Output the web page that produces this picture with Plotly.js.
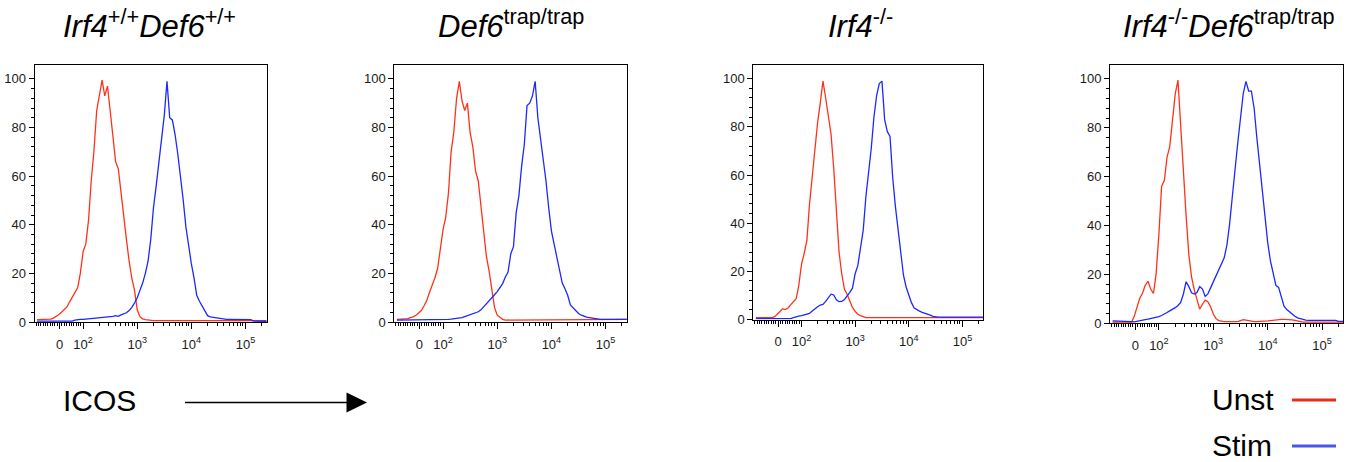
<!DOCTYPE html>
<html><head><meta charset="utf-8">
<script src="https://cdn.plot.ly/plotly-3.0.1.min.js"></script>
<style>html,body{margin:0;padding:0;background:#fff}#chart{width:1352px;height:462px}</style>
</head><body><div id="chart"></div>
<script>
// ICOS intensity bin centres (shared by all histograms)
const icosBins = [-96,-84,-73,-61,-50,-38,-27,-15,-4,8,19,31,42,54,65,77,88,100,
  112,126,141,158,178,200,224,251,282,316,355,398,447,501,562,631,708,794,891,1000,
  1122,1259,1413,1585,1778,1995,2239,2512,2818,3162,3548,3981,4467,5012,5623,6310,7079,7943,8913,10000,
  11220,12589,14125,15849,17783,19953,22387,25119,28184,31623,35481,39811,44668,50119,56234,63096,70795,79433,89125,100000,
  112202,125893,141254,158489,177828,199526,223872,251189];

const panelTitles = [
  '<i>Irf4</i><sup>+/+</sup><i>Def6</i><sup>+/+</sup>',
  '<i>Def6</i><sup>trap/trap</sup>',
  '<i>Irf4</i><sup>-/-</sup>',
  '<i>Irf4</i><sup>-/-</sup><i>Def6</i><sup>trap/trap</sup>'
];
const seriesNames = ['Unst', 'Stim'];
const axisLabel = 'ICOS';

// % of max, per bin
const wtUnst = [1.0,1.0,1.0,1.0,1.1,1.2,1.6,2.2,3.0,4.0,
  5.0,6.2,8.2,10.3,12.5,14.2,20,29,32,42,
  58,70,87,94,99.5,93,97,87,76,66,
  63,53,42,34,25,18,13,5,2.2,1.3,
  1.0,0.8,0.7,0.6,0.6,0.6,0.6,0.6,0.6,0.6,
  0.6,0.6,0.6,0.6,0.6,0.6,0.6,0.6,0.6,0.6,
  0.6,0.6,0.6,0.6,0.6,0.6,0.6,0.6,0.6,0.6,
  0.6,0.6,0.6,0.6,0.6,0.6,0.6,0.6,0.6,0.6,
  0.6,0.6,0.6,0.6,0.6,0.6];
const wtStim = [0.4,0.4,0.4,0.4,0.4,0.4,0.4,0.4,0.4,0.4,
  0.4,0.4,0.4,0.4,0.8,1.1,1.1,1.1,1.2,1.2,
  1.2,1.3,1.4,1.5,1.6,1.7,1.9,2.0,2.3,2.6,
  2.3,2.9,3.3,3.8,4.7,6.0,7.8,10,13,16,
  20,25,34,47,56,65,75,85,99,84,
  83,77,69,60,50,39,31,24,18,11,
  8.5,6.5,5,2.6,2.1,1.9,1.7,1.5,1.3,1.2,
  1.1,1.1,1.1,1.1,1.1,1.1,1.1,1.1,1.1,1.0,
  0.4,0.3,0.3,0.3,0.3,0.3];
const def6Unst = [1.1,1.1,1.1,1.2,1.4,1.8,2.1,2.8,3.6,4.7,
  6.6,8.8,12,15,18,22,29,38,43,53,
  70,78,92,99,91,87,90,78,72,62,
  58,48,39,27,21,13,6,2.8,1.8,1.1,
  0.8,0.8,0.8,0.8,0.8,0.8,0.8,0.8,0.8,0.8,
  0.8,0.8,0.8,0.8,0.8,0.8,0.8,0.8,0.8,0.8,
  0.8,0.8,0.8,0.8,0.8,0.8,0.8,0.8,0.8,0.8,
  0.9,0.9,1.1,1.1,1.1,1.1,1.1,1.1,1.1,1.1,
  1.1,1.1,1.1,1.1,1.1,1.1];
const def6Stim = [0.8,0.8,0.8,0.8,0.8,0.8,0.8,0.8,0.8,0.8,
  1.0,1.1,1.1,1.1,1.1,1.1,1.1,1.1,1.1,1.1,
  1.2,1.3,1.4,1.5,1.8,2.2,2.6,2.9,3.2,3.5,
  4.2,5.0,6.2,7.2,8.5,10,11.2,12.5,14,15.8,
  18.5,20.5,28,31,45,52,64,73,89,90,
  93,99,84,76,68,58,47,37.5,32,27,
  21,16,13.7,11,7,5.7,4.8,3.5,2.8,2.3,
  2.0,1.8,1.6,1.3,1.1,1.1,1.1,1.1,1.1,1.1,
  1.1,1.1,1.1,1.1,1.1,1.1];
const irf4Unst = [0.8,0.8,0.8,0.8,0.8,0.8,0.8,1.2,2.2,3.3,
  4.5,4.1,4.8,6.2,7.4,8.6,14,23,27.4,33,
  48,60,73,82,90,99,92,85.5,77,63,
  44,28,19,12.5,10.5,7.8,5,3.4,2.2,1.6,
  1.2,0.8,0.8,0.8,0.8,0.8,0.8,0.8,0.8,0.8,
  0.8,0.8,0.8,0.8,0.8,0.8,0.8,0.8,0.8,0.8,
  0.8,0.8,0.8,0.8,0.8,0.8,0.8,0.8,0.8,0.8,
  0.8,0.8,0.8,0.8,0.8,0.8,0.8,0.8,0.8,0.8,
  0.8,0.8,0.8,0.8,0.8,0.8];
const irf4Stim = [0.4,0.4,0.4,0.4,0.4,0.4,0.4,0.4,0.4,0.4,
  0.4,0.4,0.4,0.4,0.8,1.2,1.4,1.6,1.9,2.2,
  2.5,3.5,4.6,5.3,6.0,6.3,7.5,9.1,10.5,10.2,
  8.2,7.4,7.5,8.3,9.6,11.3,13,19,22.5,29,
  37,51,61,71,84,93,98,99,83,78,
  76,59,47,38,27,18.5,13.5,9.8,7,4.8,
  4.0,3.5,3.0,2.7,2.3,1.8,1.3,1.0,1.0,1.0,
  1.0,1.0,1.0,1.0,1.0,1.0,1.0,1.0,1.0,1.0,
  1.0,1.0,1.0,1.0,1.0,1.0];
const dkoUnst = [0.5,0.5,0.5,0.5,0.5,0.5,0.5,0.5,3,7,
  10.3,12.4,15.6,17.2,14,12.2,20,36.6,56,58.5,
  68,72.2,82,94,99.5,80.4,65,44,28,19,
  13.7,9.2,5.8,7.8,9.5,8.8,6.8,3.8,1.9,1.1,
  0.8,0.7,0.7,0.7,0.7,0.7,0.7,1.1,1.5,1.3,
  1.0,0.7,0.7,0.7,0.7,0.8,0.9,1.0,1.1,1.3,
  1.5,1.6,1.6,1.6,1.6,1.6,1.4,1.2,0.9,0.7,
  0.5,0.5,0.5,0.5,0.5,0.5,0.5,0.5,0.5,0.5,
  0.5,0.5,0.5,0.5,0.5,0.5];
const dkoStim = [1.0,1.0,1.0,1.0,1.0,1.0,1.0,0.7,0.6,0.9,
  1.1,1.3,1.5,1.7,1.9,2.1,2.3,2.7,3.2,3.7,
  4.4,5.1,5.7,6.4,7.3,8.5,12,17,15,12.5,
  12,12.6,15,14,11,12,14.5,17,20,22,
  25,26.8,32,40.7,52,64,74,84,94,99,
  95,95,88,76,65,57,45,33,25.5,20,
  15.5,14.7,10.5,7,5.6,4.6,3.7,2.9,2.2,1.8,
  1.5,1.3,1.2,1.2,1.2,1.2,1.2,1.2,1.2,1.2,
  1.2,1.2,1.2,0.8,0.8,0.8];

const panelSeries = [[wtUnst, wtStim], [def6Unst, def6Stim], [irf4Unst, irf4Stim], [dkoUnst, dkoStim]];

const yTickVals = [0, 20, 40, 60, 80, 100];
const xTickVals = [0, 100, 1000, 10000, 100000];
const xTickText = ['0', '10<sup>2</sup>', '10<sup>3</sup>', '10<sup>4</sup>', '10<sup>5</sup>'];

// biexponential-like display scale: linear near zero, log10 above 100
function biex(v) { return v >= 100 ? Math.log10(v) : 2 + (v - 100) / (100 * Math.LN10); }

const W = 1352, H = 462;
const px = x => x / W;
const py = y => 1 - y / H;

const xDomPx = [[34.5, 266.5], [394.3, 626.7], [753.3, 983.3], [1110, 1343.3]];
const yDomPx = [[65, 322], [65, 322], [65, 319.5], [65, 323.3]];
const titleCx = [149, 511, 861, 1229];

const minorX = [];
for (let v = -100; v < 100; v += 10) if (v !== 0) minorX.push(biex(v));
for (let k = 2; k <= 5; k++) for (let m = 2; m <= 9; m++) minorX.push(biex(m * Math.pow(10, k)));
const minorY = [];
for (let v = 4; v < 100; v += 4) if (v % 20 !== 0) minorY.push(v);

const colUnst = '#ff3218', colStim = '#1b28ff';
const tickFont = { family: 'Liberation Sans, Arial, sans-serif', size: 13, color: '#1a1a1a' };

const data = [];
const layout = {
  width: W, height: H, margin: { l: 0, r: 0, t: 0, b: 0 },
  paper_bgcolor: '#fff', plot_bgcolor: '#fff', showlegend: false,
  font: { family: 'Liberation Sans, Arial, sans-serif', color: '#000' },
  annotations: [], shapes: []
};

panelSeries.forEach((pair, p) => {
  const ax = p === 0 ? '' : String(p + 1);
  pair.forEach((vals, s) => {
    data.push({
      type: 'scatter', mode: 'lines', name: seriesNames[s],
      x: icosBins.map(biex), y: vals,
      xaxis: 'x' + ax, yaxis: 'y' + ax,
      line: { color: s === 0 ? colUnst : colStim, width: 1.3 },
      hoverinfo: 'skip'
    });
  });
  layout['xaxis' + ax] = {
    domain: [px(xDomPx[p][0]), px(xDomPx[p][1])], anchor: 'y' + ax,
    range: [biex(-107), biex(245000)], showgrid: false, zeroline: false,
    showline: true, linecolor: '#000', linewidth: 1, mirror: true,
    tickmode: 'array', tickvals: xTickVals.map(biex), ticktext: xTickText,
    ticks: 'outside', ticklen: 6, tickwidth: 1, tickcolor: '#000',
    ticklabelstandoff: 4, tickfont: tickFont,
    minor: { tickmode: 'array', tickvals: minorX, ticks: 'outside', ticklen: 3, tickwidth: 1, tickcolor: '#000' }
  };
  layout['yaxis' + ax] = {
    domain: [py(yDomPx[p][1]), py(yDomPx[p][0])], anchor: 'x' + ax,
    range: [0, 105.7], showgrid: false, zeroline: false,
    showline: true, linecolor: '#000', linewidth: 1, mirror: true,
    tickmode: 'array', tickvals: yTickVals,
    ticks: 'outside', ticklen: 5, tickwidth: 1, tickcolor: '#000', tickfont: tickFont,
    minor: { tickmode: 'array', tickvals: minorY, ticks: 'outside', ticklen: 3, tickwidth: 1, tickcolor: '#000' }
  };
  layout.annotations.push({
    xref: 'paper', yref: 'paper', x: px(titleCx[p]), y: py(24), xanchor: 'center', yanchor: 'middle',
    text: panelTitles[p], showarrow: false, font: { size: 31, color: '#000' }
  });
});

// axis label with arrow
layout.annotations.push({ xref: 'paper', yref: 'paper', x: px(99), y: py(400), xanchor: 'center', yanchor: 'middle',
  text: axisLabel, showarrow: false, font: { size: 30, color: '#000' } });
layout.shapes.push({ type: 'line', xref: 'paper', yref: 'paper', x0: px(185), x1: px(350), y0: py(402.5), y1: py(402.5),
  line: { color: '#000', width: 1.6 } });
layout.shapes.push({ type: 'path', xref: 'paper', yref: 'paper',
  path: `M ${px(346.5)} ${py(392.5)} L ${px(367)} ${py(402.5)} L ${px(346.5)} ${py(412.5)} Z`,
  fillcolor: '#000', line: { color: '#000', width: 0 } });

// legend
const legY = [399, 445];
const legCol = ['#e1301a', '#4857e6'];
seriesNames.forEach((n, i) => {
  layout.annotations.push({ xref: 'paper', yref: 'paper', x: px(1210), y: py(legY[i]), xanchor: 'left', yanchor: 'middle',
    text: n, showarrow: false, font: { size: 30, color: '#000' } });
  layout.shapes.push({ type: 'line', xref: 'paper', yref: 'paper', x0: px(1292), x1: px(1336), y0: py(legY[i] + 1), y1: py(legY[i] + 1),
    line: { color: legCol[i], width: 3 } });
});

Plotly.newPlot('chart', data, layout, { staticPlot: true, displayModeBar: false });
</script>
</body></html>
